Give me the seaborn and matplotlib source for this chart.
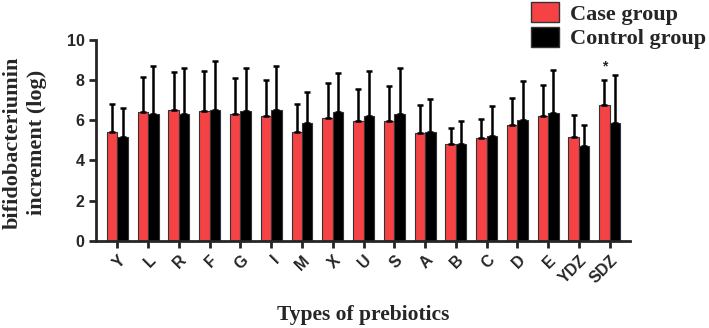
import numpy as np
import pandas as pd
import seaborn as sns
import matplotlib.pyplot as plt
from matplotlib.patches import Patch

categories = ['Y', 'L', 'R', 'F', 'G', 'I', 'M', 'X', 'U', 'S', 'A', 'B', 'C', 'D', 'E', 'YDZ', 'SDZ']
case_mean = [5.44, 6.39, 6.50, 6.48, 6.32, 6.19, 5.44, 6.12, 5.97, 5.97, 5.36, 4.80, 5.11, 5.79, 6.22, 5.17, 6.77]
case_top = [6.83, 8.18, 8.39, 8.44, 8.09, 8.00, 6.79, 7.85, 7.58, 7.70, 6.75, 5.64, 6.09, 7.10, 7.75, 6.25, 8.03]
ctrl_mean = [5.19, 6.32, 6.32, 6.50, 6.44, 6.50, 5.87, 6.39, 6.22, 6.30, 5.42, 4.83, 5.22, 6.02, 6.35, 4.73, 5.87]
ctrl_top = [6.63, 8.69, 8.59, 8.97, 8.63, 8.69, 7.41, 8.34, 8.46, 8.59, 7.06, 5.99, 6.70, 7.95, 8.53, 5.77, 8.28]
groups = ['Case group', 'Control group']
colors = ['#F44245', '#000000']

df = pd.DataFrame({
    'type': categories * 2,
    'group': [groups[0]] * len(categories) + [groups[1]] * len(categories),
    'value': case_mean + ctrl_mean,
})

sns.set_style('ticks')
plt.rcParams['font.family'] = ['Liberation Sans', 'DejaVu Sans']

fig = plt.figure(figsize=(7.09, 3.28), dpi=100)
ax = fig.add_axes([0.136, 0.266, 0.753, 0.612])

sns.barplot(data=df, x='type', y='value', hue='group', palette=colors, width=0.68, saturation=1,
            errorbar=None, edgecolor='#333333', linewidth=0.8, legend=False, ax=ax)

# upward-only error bars
bars = ax.patches
n = len(categories)
for gi, (means, tops) in enumerate([(case_mean, case_top), (ctrl_mean, ctrl_top)]):
    xs = [b.get_x() + b.get_width() / 2 for b in bars[gi * n:(gi + 1) * n]]
    m = np.array(means)
    t = np.array(tops)
    ax.errorbar(xs, m, yerr=[np.zeros(n), t - m], fmt='none', ecolor='black',
                elinewidth=1.8, capsize=2.5, capthick=1.8, zorder=1)

# significance mark on SDZ
sdz_x = bars[n - 1].get_x() + bars[n - 1].get_width() / 2
ax.text(sdz_x, case_top[-1] + 0.3, '*', ha='center', va='bottom', fontsize=10, fontweight='bold')

ax.set_xlim(-0.68, n - 1 + 0.67)
ax.set_ylim(0, 10)
ax.set_yticks([0, 2, 4, 6, 8, 10])
sns.despine(ax=ax)
for s in ['left', 'bottom']:
    ax.spines[s].set_linewidth(2)
ax.tick_params(axis='both', width=2, length=5, labelsize=11.5)
for lab in ax.get_yticklabels():
    lab.set_fontweight('bold')
for lab in ax.get_xticklabels():
    lab.set_fontweight('bold')
    lab.set_rotation(45)
    lab.set_ha('right')
    lab.set_rotation_mode('anchor')

ax.set_xlabel('Types of prebiotics', fontfamily='Liberation Serif', fontweight='bold', fontsize=15.5)
ax.xaxis.set_label_coords(0.5, -0.32)
ax.set_ylabel('bifidobacteriumin\nincrement (log)', fontfamily='Liberation Serif',
              fontweight='bold', fontsize=16, linespacing=1.3)
ax.yaxis.set_label_coords(-0.093, 0.49)

handles = [Patch(facecolor=colors[0], edgecolor='#333333'), Patch(facecolor=colors[1], edgecolor='#333333')]
fig.legend(handles, groups, loc='upper right', bbox_to_anchor=(1.024, 1.055), frameon=False,
           prop={'family': 'Liberation Serif', 'weight': 'bold', 'size': 16},
           handlelength=1.25, handleheight=1.0, handletextpad=0.5, labelspacing=0.1)

fig.savefig('out.png', dpi=100)
